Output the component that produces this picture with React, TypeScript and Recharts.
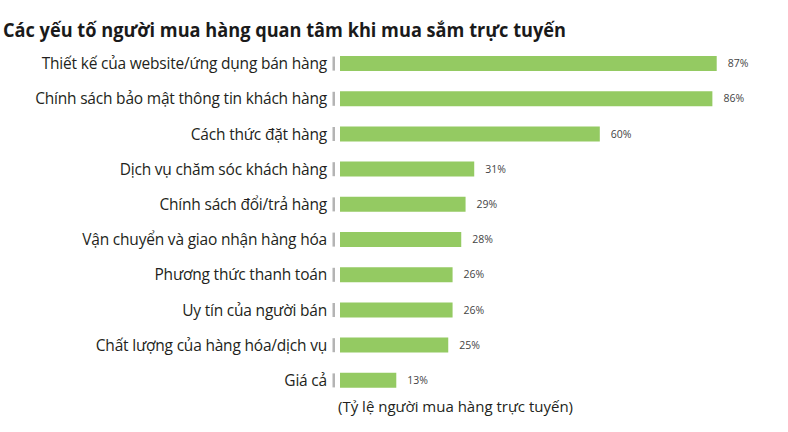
import { Bar, BarChart, LabelList, XAxis, YAxis } from "recharts";

const categories = [
  "Thiết kế của website/ứng dụng bán hàng",
  "Chính sách bảo mật thông tin khách hàng",
  "Cách thức đặt hàng",
  "Dịch vụ chăm sóc khách hàng",
  "Chính sách đổi/trả hàng",
  "Vận chuyển và giao nhận hàng hóa",
  "Phương thức thanh toán",
  "Uy tín của người bán",
  "Chất lượng của hàng hóa/dịch vụ",
  "Giá cả",
];
const shares = [87, 86, 60, 31, 29, 28, 26, 26, 25, 13];

const title = "Các yếu tố người mua hàng quan tâm khi mua sắm trực tuyến";
const caption = "(Tỷ lệ người mua hàng trực tuyến)";

const data = categories.map((name, i) => ({ name, value: shares[i] }));

const FONT = "'Open Sans', sans-serif";

function CategoryTick({ x, y, payload }: any) {
  return (
    <g>
      <text x={x - 13} y={y} dy={5.5} textAnchor="end" fontSize={15.5} letterSpacing={-0.2}
        fill="#231f20" fontFamily={FONT}>
        {payload.value}
      </text>
      <rect x={x - 7.5} y={y - 7} width={2.5} height={14} fill="#b4b4b4" />
    </g>
  );
}

export default function App() {
  return (
    <div style={{ position: "fixed", left: 0, top: 0, width: 788, height: 432, background: "#fff" }}>
      <BarChart
        width={788}
        height={432}
        data={data}
        layout="vertical"
        margin={{ top: 46, right: 15, bottom: 34, left: 0 }}
        barSize={15}
      >
        <text x={3} y={37} fontSize={19} fontWeight={700} fill="#1a1a1a" fontFamily={FONT}
          textLength={563} lengthAdjust="spacingAndGlyphs">
          {title}
        </text>
        <XAxis type="number" domain={[0, 100]} hide />
        <YAxis
          type="category"
          dataKey="name"
          width={340}
          axisLine={false}
          tickLine={false}
          tickSize={0}
          tickMargin={0}
          interval={0}
          tick={<CategoryTick />}
        />
        <Bar dataKey="value" fill="#94ca62" isAnimationActive={false}>
          <LabelList
            dataKey="value"
            position="right"
            offset={11}
            formatter={(v: any) => `${v}%`}
            style={{ fontSize: 10.5, fill: "#444", fontFamily: FONT }}
          />
        </Bar>
        <text x={338} y={412} fontSize={15} fill="#231f20" fontFamily={FONT}>
          {caption}
        </text>
      </BarChart>
    </div>
  );
}
